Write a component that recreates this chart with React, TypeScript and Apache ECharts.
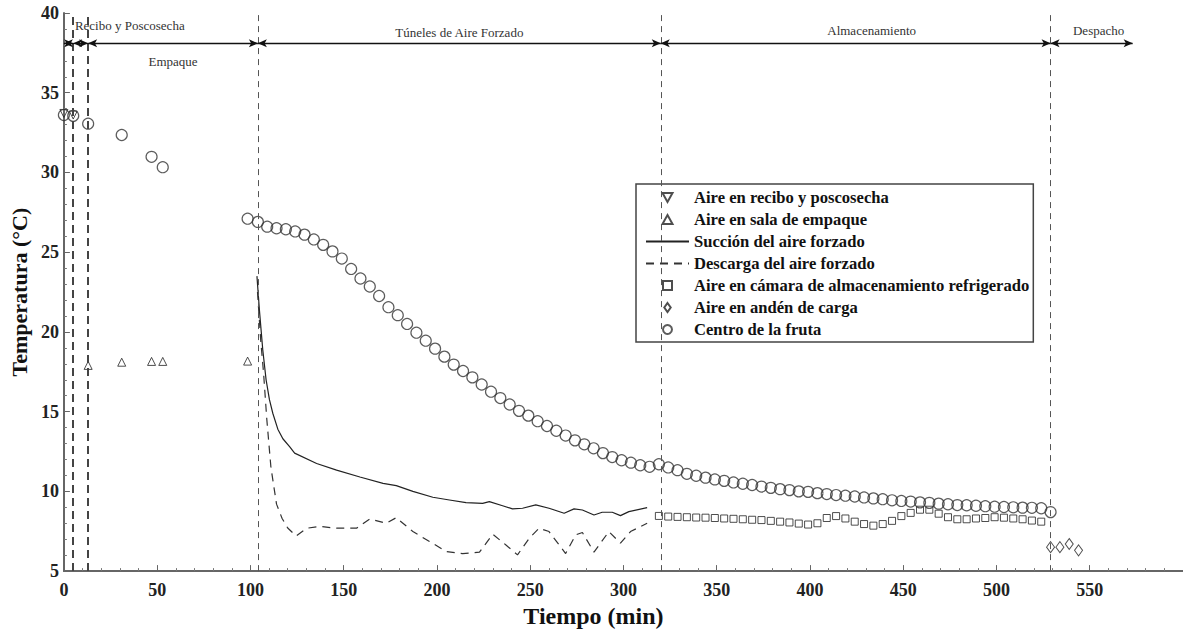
import React, { useEffect, useRef } from "react";
import * as echarts from "echarts";

const FONT = "'Liberation Serif', 'Times New Roman', serif";

// ---------- data ----------
const recepcionT = [0, 5];
const recepcionV = [33.7, 33.6];

const empaqueT = [13, 31, 47, 53, 98.5];
const empaqueV = [17.9, 18.1, 18.15, 18.15, 18.17];

const succionT = [103.5, 104.8, 106.6, 108.4, 110.2, 112, 114.7, 117.4, 121, 123.7, 135.5, 146.2, 158.7, 171.1, 178.2, 187.1, 197.8, 206.7, 215.6, 224.5, 228.1, 235.2, 240.5, 245.9, 253, 260.1, 268.2, 273.5, 278, 284.2, 288.6, 294, 298.4, 302.9, 312.7];
const succionV = [23.5, 21.4, 18.9, 17.0, 15.75, 14.9, 13.9, 13.3, 12.8, 12.4, 11.75, 11.33, 10.9, 10.5, 10.36, 10.0, 9.63, 9.46, 9.29, 9.25, 9.36, 9.1, 8.9, 8.94, 9.15, 8.94, 8.63, 8.9, 8.83, 8.52, 8.69, 8.69, 8.48, 8.73, 8.98];

const descargaT = [103.8, 105.5, 107, 108.8, 111, 114, 117, 120, 124.5, 130.2, 137.3, 146.2, 156.9, 164, 172.9, 178.2, 187.1, 196, 205, 213.8, 222.8, 229.9, 237, 243.2, 249.5, 254.8, 260.1, 269, 274.4, 278, 284.2, 292.2, 298.4, 303.8, 312.7];
const descargaV = [22.5, 19.5, 17.5, 14.5, 11.5, 9.2, 8.3, 7.7, 7.2, 7.69, 7.8, 7.69, 7.69, 8.27, 8.0, 8.35, 7.48, 6.86, 6.23, 6.1, 6.19, 7.31, 6.64, 6.02, 7.06, 7.69, 7.48, 6.1, 7.27, 7.42, 6.19, 7.48, 6.75, 7.48, 8.0];

const camaraT = [319, 324, 329, 334, 339, 344, 349, 354, 359, 364, 369, 374, 379, 384, 389, 394, 399, 404, 409, 414, 419, 424, 429, 434, 439, 444, 449, 454, 459, 464, 469, 474, 479, 484, 489, 494, 499, 504, 509, 514, 519, 524];
const camaraV = [8.46, 8.42, 8.4, 8.38, 8.36, 8.35, 8.33, 8.3, 8.28, 8.25, 8.22, 8.2, 8.15, 8.1, 8.05, 7.98, 7.92, 8.0, 8.33, 8.45, 8.3, 8.1, 7.95, 7.85, 7.95, 8.15, 8.45, 8.65, 8.85, 8.85, 8.6, 8.38, 8.25, 8.25, 8.3, 8.33, 8.38, 8.35, 8.3, 8.25, 8.17, 8.1];

const andenT = [529, 534, 539, 544];
const andenV = [6.5, 6.5, 6.7, 6.3];

const centroT = [0, 5, 13, 31, 47, 53, 98.5,
  104, 109, 114, 119, 124, 129, 134, 139, 144, 149,
  154, 159, 164, 169, 174, 179, 184, 189, 194, 199,
  204, 209, 214, 219, 224, 229, 234, 239, 244, 249,
  254, 259, 264, 269, 274, 279, 284, 289, 294, 299,
  304, 309, 314, 319, 324, 329, 334, 339, 344, 349,
  354, 359, 364, 369, 374, 379, 384, 389, 394, 399,
  404, 409, 414, 419, 424, 429, 434, 439, 444, 449,
  454, 459, 464, 469, 474, 479, 484, 489, 494, 499,
  504, 509, 514, 519, 524, 529];
const centroV = [33.6, 33.55, 33.06, 32.35, 30.98, 30.33, 27.1,
  26.9, 26.6, 26.5, 26.44, 26.3, 26.1, 25.8, 25.46, 25.05, 24.6,
  23.95, 23.35, 22.85, 22.25, 21.55, 21.05, 20.5, 19.95, 19.45, 18.95,
  18.45, 17.95, 17.55, 17.15, 16.7, 16.25, 15.85, 15.45, 15.05, 14.75,
  14.4, 14.1, 13.8, 13.5, 13.2, 12.95, 12.7, 12.4, 12.15, 11.95,
  11.8, 11.64, 11.54, 11.7, 11.5, 11.33, 11.1, 10.98, 10.86, 10.75,
  10.66, 10.56, 10.48, 10.4, 10.3, 10.22, 10.14, 10.08, 10.0, 9.97,
  9.89, 9.83, 9.77, 9.73, 9.68, 9.62, 9.56, 9.51, 9.44, 9.4,
  9.36, 9.31, 9.28, 9.23, 9.19, 9.14, 9.13, 9.1, 9.07, 9.04,
  9.02, 9.0, 8.98, 8.97, 8.94, 8.7];

const seriesNames = [
  "Aire en recibo y poscosecha",
  "Aire en sala de empaque",
  "Succión del aire forzado",
  "Descarga del aire forzado",
  "Aire en cámara de almacenamiento refrigerado",
  "Aire en andén de carga",
  "Centro de la fruta",
];

const phaseNames = ["Recibo y Poscosecha", "", "Empaque", "Túneles de Aire Forzado", "Almacenamiento", "Despacho"];
const phaseStart = [0, 5, 13, 104, 320, 529];
const phaseEnd = [5, 13, 104, 320, 529, 573];
const phaseLevel = 38.1;
const thickBounds = [5, 13];
const thinBounds = [104, 320, 529];

// ---------- helpers ----------
const zip = (t: number[], v: number[]) => t.map((x, i) => [x, v[i]]);

const hollow = { color: "rgba(0,0,0,0)", borderColor: "#222", borderWidth: 1 };
const SYM_DOWN = "path://M0,0L10,0L5,9Z";
const SYM_UP = "path://M5,0L10,9L0,9Z";
const SYM_RECT = "path://M0,0L10,0L10,10L0,10Z";
const SYM_DIAMOND = "path://M5,0L10,7L5,14L0,7Z";

const phaseLabelStyles: any[] = [
  { show: true, position: "insideStartTop", distance: 11 },
  { show: false },
  { show: true, position: "insideMiddleBottom", distance: 12 },
  { show: true, position: "insideMiddleTop", distance: 4 },
  { show: true, position: "insideMiddleTop", distance: 6, offset: [16, 0] },
  { show: true, position: "insideMiddleTop", distance: 6, offset: [7, 0] },
];

function buildOption(): any {
  const axisLineStyle = { color: "#666", width: 2 };
  const labelStyle = { fontFamily: FONT, fontWeight: "bold", fontSize: 18, color: "#222" };
  return {
    animation: false,
    backgroundColor: "#fff",
    textStyle: { fontFamily: FONT },
    grid: { left: 63, top: 13, right: -4, bottom: 60, containLabel: false },
    xAxis: {
      type: "value",
      min: 0,
      max: 600,
      interval: 50,
      name: "Tiempo (min)",
      nameLocation: "middle",
      nameGap: 32,
      nameTextStyle: { fontFamily: FONT, fontWeight: "bold", fontSize: 24, color: "#111", padding: [0, 60, 0, 0] },
      axisLine: { show: true, lineStyle: axisLineStyle },
      axisTick: { show: true, inside: true, length: 6, lineStyle: { color: "#666", width: 1 } },
      minorTick: { show: true, splitNumber: 5, length: 3, lineStyle: { color: "#777", width: 1 } },
      splitLine: { show: false },
      axisLabel: { ...labelStyle, margin: 10, showMaxLabel: false },
    },
    yAxis: {
      type: "value",
      min: 5,
      max: 40,
      interval: 5,
      name: "Temperatura (°C)",
      nameLocation: "middle",
      nameGap: 30,
      nameTextStyle: { fontFamily: FONT, fontWeight: "bold", fontSize: 22, color: "#111" },
      axisLine: { show: true, lineStyle: axisLineStyle },
      axisTick: { show: true, inside: true, length: 6, lineStyle: { color: "#666", width: 1 } },
      minorTick: { show: true, splitNumber: 5, length: 3, lineStyle: { color: "#777", width: 1 } },
      splitLine: { show: false },
      axisLabel: { ...labelStyle, margin: 5 },
    },
    legend: {
      data: seriesNames,
      orient: "vertical",
      left: 636,
      top: 184,
      itemWidth: 43,
      itemHeight: 9,
      itemGap: 5,
      padding: [5, 4, 4, 9],
      borderColor: "#444",
      borderWidth: 1.5,
      backgroundColor: "#fff",
      selectedMode: false,
      textStyle: { fontFamily: FONT, fontWeight: "bold", fontSize: 16.6, color: "#111", lineHeight: 16 },
    },
    series: [
      {
        name: seriesNames[0],
        type: "scatter",
        symbol: SYM_DOWN,
        symbolSize: 8,
        itemStyle: hollow,
        data: zip(recepcionT, recepcionV),
        z: 3,
      },
      {
        name: seriesNames[1],
        type: "scatter",
        symbol: SYM_UP,
        symbolSize: 8,
        itemStyle: hollow,
        data: zip(empaqueT, empaqueV),
        z: 3,
      },
      {
        name: seriesNames[2],
        type: "line",
        symbol: "none",
        showSymbol: false,
        lineStyle: { color: "#222", width: 1.2, type: "solid" },
        itemStyle: { color: "rgba(0,0,0,0)", borderWidth: 0 },
        data: zip(succionT, succionV),
        z: 3,
      },
      {
        name: seriesNames[3],
        type: "line",
        symbol: "none",
        showSymbol: false,
        lineStyle: { color: "#333", width: 1.2, type: [8, 6] },
        itemStyle: { color: "rgba(0,0,0,0)", borderWidth: 0 },
        data: zip(descargaT, descargaV),
        z: 3,
      },
      {
        name: seriesNames[4],
        type: "scatter",
        symbol: SYM_RECT,
        symbolSize: 7,
        itemStyle: hollow,
        data: zip(camaraT, camaraV),
        z: 3,
      },
      {
        name: seriesNames[5],
        type: "scatter",
        symbol: SYM_DIAMOND,
        symbolSize: [8, 11],
        itemStyle: hollow,
        data: zip(andenT, andenV),
        z: 3,
      },
      {
        name: seriesNames[6],
        type: "scatter",
        symbol: "circle",
        symbolSize: 11,
        itemStyle: { color: "rgba(0,0,0,0)", borderColor: "#333", borderWidth: 1.2 },
        data: zip(centroT, centroV),
        z: 3,
      },
      {
        name: "limites-gruesos",
        type: "line",
        data: [],
        markLine: {
          silent: true,
          symbol: "none",
          label: { show: false },
          lineStyle: { color: "#444", width: 2, type: [8, 5] },
          data: thickBounds.map((x) => ({ xAxis: x })),
        },
      },
      {
        name: "limites-finos",
        type: "line",
        data: [],
        markLine: {
          silent: true,
          symbol: "none",
          label: { show: false },
          lineStyle: { color: "#555", width: 1, type: [6, 5] },
          data: thinBounds.map((x) => ({ xAxis: x })),
        },
      },
      {
        name: "fases",
        type: "line",
        data: [],
        markLine: {
          silent: true,
          symbol: ["arrow", "arrow"],
          symbolSize: [6, 9],
          lineStyle: { color: "#111", width: 1.3, type: "solid" },
          label: { fontFamily: FONT, fontSize: 13, color: "#333" },
          data: phaseStart.map((s, i) => [
            {
              coord: [s, phaseLevel],
              label: { ...phaseLabelStyles[i], formatter: phaseNames[i], fontFamily: FONT, fontSize: 13, color: "#333" },
            },
            { coord: [phaseEnd[i], phaseLevel] },
          ]),
        },
      },
    ],
  };
}

export default function App() {
  const ref = useRef<HTMLDivElement>(null);
  useEffect(() => {
    if (!ref.current) return;
    const chart = echarts.init(ref.current, null, { renderer: "svg" });
    chart.setOption(buildOption());
    return () => chart.dispose();
  }, []);
  return (
    <div
      ref={ref}
      style={{ position: "absolute", left: 0, top: 0, width: 1183, height: 633, background: "#fff" }}
    />
  );
}
